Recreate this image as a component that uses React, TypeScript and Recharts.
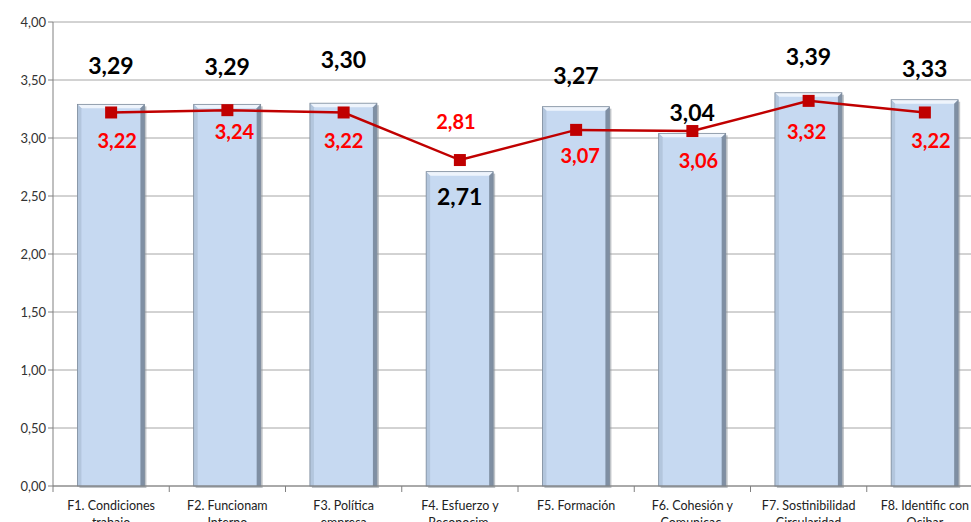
import React from "react";
import {
  ComposedChart,
  Bar,
  Line,
  XAxis,
  YAxis,
  CartesianGrid,
  LabelList,
} from "recharts";

const categories = [
  ["F1. Condiciones", "trabajo"],
  ["F2. Funcionam", "Interno"],
  ["F3. Política", "empresa"],
  ["F4. Esfuerzo y", "Reconocim."],
  ["F5. Formación", ""],
  ["F6. Cohesión y", "Comunicac."],
  ["F7. Sostinibilidad", "Circularidad"],
  ["F8. Identific con", "Ocibar"],
];
const barValues = [3.29, 3.29, 3.3, 2.71, 3.27, 3.04, 3.39, 3.33];
const lineValues = [3.22, 3.24, 3.22, 2.81, 3.07, 3.06, 3.32, 3.22];
const yTicks = [0, 0.5, 1, 1.5, 2, 2.5, 3, 3.5, 4];

// label placement (manually dragged in the original)
const barLabelDy = [-39, -38, -44, 24, -32, -21, -37, -32];
const lineLabelDy = [28, 21, 28, -39, 25, 29, 30, 28];
const lineLabelDx = [6, 7, 0, -4, 4, 6, -2, 6];

const data = categories.map((c, i) => ({
  name: c.join(" "),
  bar: barValues[i],
  line: lineValues[i],
}));

const fmt = (v: number) => v.toFixed(2).replace(".", ",");
const FONT = "Lato, 'Open Sans', sans-serif";

const PLOT_LEFT = 53;
const PLOT_RIGHT = 983;
const BAND = (PLOT_RIGHT - PLOT_LEFT) / 8;

const XTick = (props: any) => {
  const { x, y, payload } = props;
  const lines = categories[payload.index] || ["", ""];
  const bx = x - BAND / 2;
  return (
    <g>
      <line x1={bx} y1={y - 8} x2={bx} y2={y - 2} stroke="#808080" />
      <text
        x={x}
        y={y + 16}
        textAnchor="middle"
        fontSize={12.5}
        fill="#222"
        fontFamily={FONT}
      >
        <tspan x={x} dy={0}>{lines[0]}</tspan>
        <tspan x={x} dy={17}>{lines[1]}</tspan>
      </text>
    </g>
  );
};

const BevelBar = (props: any) => {
  const { x, y, width, height } = props;
  if (!height || height <= 0) return null;
  const b = 4;
  return (
    <g>
      <rect x={x + 2} y={y + 2} width={width} height={height} fill="#8c939b" opacity={0.55} />
      <rect x={x} y={y} width={width} height={height} fill="#c6d9f1" />
      <polygon points={`${x},${y} ${x + width},${y} ${x + width - b},${y + b} ${x + b},${y + b}`} fill="#eef4fc" />
      <polygon points={`${x},${y} ${x + b},${y + b} ${x + b},${y + height} ${x},${y + height}`} fill="#b3c6dd" />
      <polygon points={`${x + width},${y} ${x + width},${y + height} ${x + width - b},${y + height} ${x + width - b},${y + b}`} fill="#7f8fa3" />
      <rect x={x} y={y} width={width} height={height} fill="none" stroke="#7d8a9a" strokeWidth={0.8} />
    </g>
  );
};

const BarLabel = (props: any) => {
  const { x, y, width, value, index } = props;
  return (
    <text
      x={x + width / 2}
      y={y + barLabelDy[index]}
      textAnchor="middle"
      dominantBaseline="central"
      fontSize={23}
      fontWeight="bold"
      fill="#000"
      fontFamily={FONT}
    >
      {fmt(value)}
    </text>
  );
};

const LineLabel = (props: any) => {
  const { x, y, value, index } = props;
  return (
    <text
      x={x + lineLabelDx[index]}
      y={y + lineLabelDy[index]}
      textAnchor="middle"
      dominantBaseline="central"
      fontSize={20}
      fontWeight="bold"
      fill="#ff0000"
      fontFamily={FONT}
    >
      {fmt(value)}
    </text>
  );
};

const SquareDot = (props: any) => {
  const { cx, cy } = props;
  return <rect x={cx - 6} y={cy - 6} width={12} height={12} fill="#c00000" />;
};

export default function App() {
  return (
    <div style={{ position: "absolute", left: 0, top: 0, width: 971, height: 522, overflow: "hidden", background: "#fff" }}>
      <ComposedChart
        width={990}
        height={560}
        data={data}
        margin={{ top: 22, right: 990 - PLOT_RIGHT, bottom: 14, left: 0 }}
        barCategoryGap="21%"
      >
        <CartesianGrid vertical={false} stroke="#a6a6a6" />
        <XAxis
          dataKey="name"
          interval={0}
          height={60}
          axisLine={{ stroke: "#808080" }}
          tickLine={false}
          tick={<XTick />}
        />
        <YAxis
          width={PLOT_LEFT}
          domain={[0, 4]}
          ticks={yTicks}
          tickFormatter={fmt}
          axisLine={{ stroke: "#808080" }}
          tickLine={{ stroke: "#808080" }}
          tickSize={5}
          tick={{ fontSize: 13, fill: "#333", fontFamily: FONT }}
        />
        <Bar dataKey="bar" shape={<BevelBar />} isAnimationActive={false}>
          <LabelList dataKey="bar" content={<BarLabel />} />
        </Bar>
        <Line
          dataKey="line"
          stroke="#c00000"
          strokeWidth={2.5}
          dot={<SquareDot />}
          activeDot={false}
          isAnimationActive={false}
        >
          <LabelList dataKey="line" content={<LineLabel />} />
        </Line>
      </ComposedChart>
    </div>
  );
}
